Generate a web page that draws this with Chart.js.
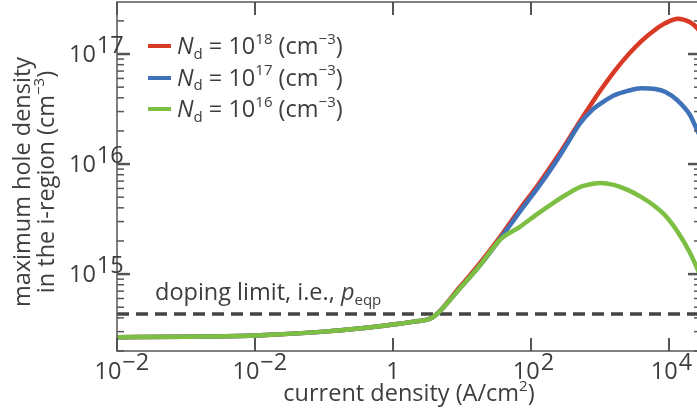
<!DOCTYPE html>
<html>
<head>
<meta charset="utf-8">
<script src="https://cdn.jsdelivr.net/npm/chart.js@4.4.1/dist/chart.umd.min.js"></script>
<style>
html, body { margin: 0; padding: 0; overflow: hidden; background: #fff; }
#lienzo { position: relative; width: 702px; height: 415px; font-family: "Open Sans", sans-serif; color: #3d3d3d; }
#lienzo canvas { position: absolute; left: 0; top: 0; }
.texto { position: absolute; font-size: 23.5px; line-height: 30px; white-space: nowrap; }
sup, sub { font-size: 0.64em; line-height: 0; position: relative; vertical-align: baseline; }
sup { top: -0.68em; }
sub { top: 0.32em; }
.raya { position: absolute; width: 23px; height: 4px; }
</style>
</head>
<body>
<div id="lienzo">
    <canvas id="grafico" width="702" height="415"></canvas>
    <div class="texto" id="ytitulo" style="left:-131px; top:157px; width:330px; height:50px; line-height:24px; text-align:center; transform:rotate(-90deg);">maximum hole density<br>in the i-region (cm<sup>−3</sup>)</div>
    <div class="texto" style="left:117px; width:584px; top:377px; text-align:center;">current density (A/cm<sup>2</sup>)</div>
    <div class="texto" style="left:155px; top:276px;">doping limit, i.e., <i>p</i><sub>eqp</sub></div>
</div>
<script>
// densidad de corriente (A/cm2), eje x
const corriente = [1e-4, 1e-3, 1e-2, 1e-1, 0.32, 1, 2, 3.8, 9.3, 18.2, 35.5, 69, 126, 209, 331, 513, 794, 1000, 1585, 2512, 3981, 6310, 8913, 13490, 19950, 25700, 29100];

// densidad maxima de huecos (cm-3) para cada Nd
const nd18 = [2.67e14, 2.70e14, 2.77e14, 3.0e14, 3.2e14, 3.48e14, 3.70e14, 4.06e14, 7.62e14, 1.26e15, 2.17e15, 3.90e15, 6.44e15, 1.02e16, 1.58e16, 2.45e16, 3.73e16, 4.61e16, 6.85e16, 9.72e16, 1.31e17, 1.66e17, 1.91e17, 2.09e17, 1.95e17, 1.72e17, 1.55e17];
const nd17 = [2.67e14, 2.70e14, 2.77e14, 3.0e14, 3.2e14, 3.48e14, 3.70e14, 4.06e14, 7.4e14, 1.2e15, 2.08e15, 3.7e15, 6.1e15, 9.6e15, 1.51e16, 2.34e16, 3.16e16, 3.51e16, 4.19e16, 4.62e16, 4.88e16, 4.81e16, 4.52e16, 3.76e16, 2.82e16, 2.02e16, 1.72e16];
const nd16 = [2.67e14, 2.70e14, 2.77e14, 3.0e14, 3.2e14, 3.48e14, 3.70e14, 4.06e14, 7.4e14, 1.2e15, 2.05e15, 2.69e15, 3.55e15, 4.42e15, 5.31e15, 6.17e15, 6.61e15, 6.71e15, 6.46e15, 5.82e15, 5.01e15, 4.12e15, 3.39e15, 2.4e15, 1.58e15, 1.12e15, 9.3e14];

// limite de dopado p_eqp
const limiteDopado = 4.33e14;

// marcas y etiquetas (base, exponente)
const marcasX = [1e-4, 1e-2, 1, 1e2, 1e4];
const etiquetasX = [['10', '−2'], ['10', '−2'], ['1', ''], ['10', '2'], ['10', '4']];
const marcasY = [1e15, 1e16, 1e17];
const etiquetasY = [['10', '15'], ['10', '16'], ['10', '17']];

const exponentesNd = ['18', '17', '16'];
const colores = ['#d93a26', '#3f72b9', '#7dbf43'];
const colorTexto = '#3d3d3d';
const colorEje = '#555555';

const pares = (ys) => corriente.map((c, i) => ({ x: c, y: ys[i] }));

// Leyenda en HTML (subindices y exponentes reales)
const lienzo = document.getElementById('lienzo');
exponentesNd.forEach((exp, i) => {
    const cy = 46 + i * 31.5;
    const raya = document.createElement('div');
    raya.className = 'raya';
    raya.style.left = '148px';
    raya.style.top = (cy - 2) + 'px';
    raya.style.background = colores[i];
    lienzo.appendChild(raya);
    const t = document.createElement('div');
    t.className = 'texto';
    t.style.left = '177px';
    t.style.top = (cy - 16) + 'px';
    t.innerHTML = `<i>N</i><sub>d</sub> = 10<sup>${exp}</sup> (cm<sup>−3</sup>)`;
    lienzo.appendChild(t);
});

// Marco, marcas hacia dentro y etiquetas con exponente
const ejes = {
    id: 'ejes',
    afterDraw(chart) {
        const { ctx, chartArea: a, scales: { x, y } } = chart;
        ctx.save();
        ctx.strokeStyle = colorEje;
        ctx.lineWidth = 1.5;
        ctx.strokeRect(a.left, a.top, a.right - a.left, a.bottom - a.top);

        const raya = (x1, y1, x2, y2, w) => {
            ctx.lineWidth = w;
            ctx.beginPath();
            ctx.moveTo(x1, y1);
            ctx.lineTo(x2, y2);
            ctx.stroke();
        };

        for (let e = 14; e <= 17; e++) {
            for (let m = 1; m <= 9; m++) {
                const v = m * Math.pow(10, e);
                if (v < y.min || v > y.max) continue;
                const py = y.getPixelForValue(v);
                const largo = m === 1 ? 13 : 7;
                const grosor = m === 1 ? 2.5 : 1.5;
                raya(a.left, py, a.left + largo, py, grosor);
                raya(a.right, py, a.right - largo, py, grosor);
            }
        }
        marcasX.forEach(v => {
            const px = x.getPixelForValue(v);
            raya(px, a.bottom, px, a.bottom - 13, 2);
            raya(px, a.top, px, a.top + 13, 2);
        });

        const fBase = '23.5px "Open Sans"';
        const fSup = '15px "Open Sans"';
        ctx.fillStyle = colorTexto;
        ctx.textBaseline = 'alphabetic';
        ctx.textAlign = 'left';
        const ancho = (t, f) => { ctx.font = f; return ctx.measureText(t).width; };
        const pintar = (base, sup, izq, linea) => {
            ctx.font = fBase;
            ctx.fillText(base, izq, linea);
            if (sup) {
                ctx.font = fSup;
                ctx.fillText(sup, izq + ancho(base, fBase) + 1, linea - 9);
            }
        };

        marcasX.forEach((v, i) => {
            const [b, s] = etiquetasX[i];
            const total = ancho(b, fBase) + (s ? ancho(s, fSup) + 1 : 0);
            pintar(b, s, x.getPixelForValue(v) - total / 2, 379);
        });
        marcasY.forEach((v, i) => {
            const [b, s] = etiquetasY[i];
            const total = ancho(b, fBase) + ancho(s, fSup) + 1;
            pintar(b, s, a.left - 3 - total, y.getPixelForValue(v) + 8);
        });
        ctx.restore();
    }
};

new Chart(document.getElementById('grafico'), {
    type: 'line',
    data: {
        datasets: [
            { data: pares(nd18), borderColor: colores[0], order: 3 },
            { data: pares(nd17), borderColor: colores[1], order: 2 },
            { data: pares(nd16), borderColor: colores[2], order: 1 },
            {
                data: [{ x: corriente[0], y: limiteDopado }, { x: corriente[corriente.length - 1], y: limiteDopado }],
                borderColor: '#444444', borderWidth: 3.5, borderDash: [12, 7], order: 4,
                cubicInterpolationMode: 'default', tension: 0
            }
        ]
    },
    options: {
        responsive: false,
        animation: false,
        layout: { padding: { top: 2, right: 1, bottom: 0, left: 0 } },
        plugins: { legend: { display: false }, tooltip: { enabled: false } },
        elements: {
            point: { radius: 0 },
            line: { borderWidth: 4.5, cubicInterpolationMode: 'monotone', borderCapStyle: 'butt' }
        },
        scales: {
            x: {
                type: 'logarithmic', min: 1e-4, max: 29100,
                grid: { display: false }, border: { display: false },
                ticks: { display: false },
                afterFit: s => { s.height = 64; }
            },
            y: {
                type: 'logarithmic', min: 2.0e14, max: 2.97e17,
                grid: { display: false }, border: { display: false },
                ticks: { display: false },
                afterFit: s => { s.width = 117; }
            }
        }
    },
    plugins: [ejes]
});
</script>
</body>
</html>
